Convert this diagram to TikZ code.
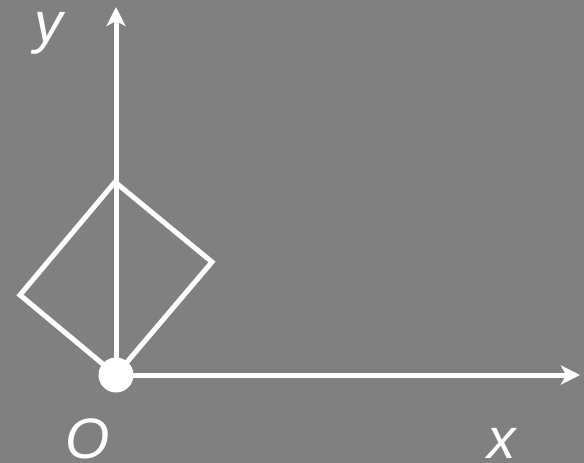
\documentclass[tikz,border=0pt]{standalone}
\usepackage{fontspec}
\setmainfont{Liberation Sans}
\usetikzlibrary{arrows.meta}
\definecolor{bg}{HTML}{808080}
\begin{document}
\begin{tikzpicture}[x=1pt,y=-1pt,line width=5pt,
  axis/.style={draw=white,-{Stealth[length=19pt,width=19pt,inset=5pt]}},
  shapeline/.style={draw=white,line join=miter},
  lab/.style={text=white,anchor=base,inner sep=0pt,font=\fontsize{57pt}{57pt}\selectfont\itshape}]
\fill[bg] (0,0) rectangle (584,463);
\useasboundingbox (0,0) rectangle (584,463);
\coordinate (O) at (116,375);
\coordinate (R) at (212,262);
\coordinate (T) at (115,182);
\coordinate (L) at (20,295);
\coordinate (xend) at (580,375);
\coordinate (yend) at (116,7);
\draw[shapeline] (O) -- (R) -- (T) -- (L) -- cycle;
\draw[axis] (O) -- (xend);
\draw[axis] (O) -- (yend);
\node[circle,fill=white,inner sep=0pt,minimum size=35pt] (dot) at (O) {};
\node[lab] (ylab) at (49,42) {y};
\node[lab] (olab) at (88,458) {O};
\node[lab] (xlab) at (502,458) {x};
\end{tikzpicture}
\end{document}
